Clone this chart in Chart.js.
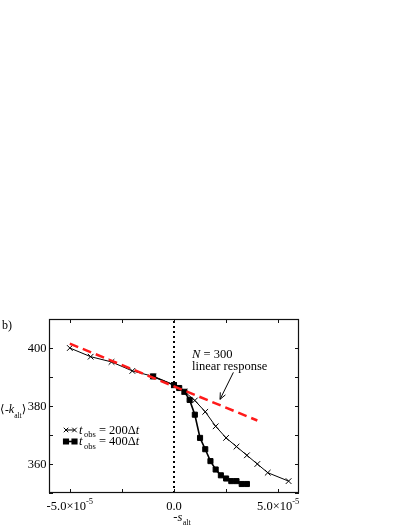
<!DOCTYPE html>
<html>
<head>
<meta charset="utf-8">
<script src="https://cdn.jsdelivr.net/npm/chart.js@4.4.1/dist/chart.umd.min.js"></script>
<style>
html,body{margin:0;padding:0;background:#fff;}
canvas{display:block;}
</style>
</head>
<body>
<canvas id="c" width="409" height="529"></canvas>
<script>
// ---- data ----
const xCross = [-5e-5,-4e-5,-3e-5,-2e-5,-1e-5,0,0.5e-5,1e-5,1.5e-5,2e-5,2.5e-5,3e-5,3.5e-5,4e-5,4.5e-5,5.5e-5];
const yCross = [400,397,395.2,392.1,390.2,387.2,385.0,381.9,378.0,373.0,369.0,366.0,363.0,360.0,357.0,354.1];
const xSquare = [-1e-5,0,0.25e-5,0.5e-5,0.75e-5,1e-5,1.25e-5,1.5e-5,1.75e-5,2e-5,2.25e-5,2.5e-5,2.75e-5,3e-5,3.25e-5,3.5e-5];
const ySquare = [390.2,387.2,386.2,384.9,382.1,377.0,369.0,365.1,361.0,358.1,356.1,355.0,354.1,354.1,353.1,353.1];
const xLinear = [-5e-5, 4e-5];
const yLinear = [401.5, 375.0];
const xTickVals = [-5e-5,-2.5e-5,0,2.5e-5,5e-5];
const xTickLabels = [["-5.0×10","-5"],null,["0.0",""],null,["5.0×10","-5"]];
const yTickVals = [350,360,370,380,390,400,410];
const yTickLabels = ["","360","","380","","400",""];
const arrowFrom = [2.85e-5, 391.6];
const arrowTo = [2.21e-5, 382.3];

const FONT = '"Liberation Serif","Times New Roman","DejaVu Serif",serif';

function pts(xs, ys){ return xs.map((x,i)=>({x:x,y:ys[i]})); }

function drawRich(ctx, segs, x, y, align){
  let w = 0;
  segs.forEach(s=>{
    ctx.font = (s.italic?'italic ':'') + s.size + 'px ' + FONT;
    s.w = ctx.measureText(s.t).width; w += s.w + (s.gap||0);
  });
  let cx = align==='center' ? x - w/2 : (align==='right' ? x - w : x);
  ctx.textAlign = 'left';
  ctx.textBaseline = 'alphabetic';
  segs.forEach(s=>{
    ctx.font = (s.italic?'italic ':'') + s.size + 'px ' + FONT;
    ctx.fillText(s.t, cx + (s.gap||0), y + (s.dy||0));
    cx += s.w + (s.gap||0);
  });
}

const framePlugin = {
  id:'frame',
  afterDraw(chart){
    const ctx = chart.ctx, a = chart.chartArea;
    const xs = chart.scales.x, ys = chart.scales.y;
    ctx.save();
    ctx.strokeStyle = '#111';
    ctx.lineWidth = 1.2;
    ctx.strokeRect(a.left+0.5, a.top+0.5, a.right-a.left-1, a.bottom-a.top-1);
    // ticks
    ctx.lineWidth = 1;
    ctx.beginPath();
    xTickVals.forEach(v=>{
      const p = Math.round(xs.getPixelForValue(v))+0.5;
      ctx.moveTo(p, a.bottom); ctx.lineTo(p, a.bottom-4);
      ctx.moveTo(p, a.top); ctx.lineTo(p, a.top+4);
    });
    yTickVals.forEach(v=>{
      const p = Math.round(ys.getPixelForValue(v))+0.5;
      ctx.moveTo(a.left, p); ctx.lineTo(a.left+4, p);
      ctx.moveTo(a.right, p); ctx.lineTo(a.right-4, p);
    });
    ctx.stroke();
    ctx.fillStyle = '#000';
    // y labels
    yTickVals.forEach((v,i)=>{
      if(!yTickLabels[i]) return;
      const p = ys.getPixelForValue(v);
      drawRich(ctx,[{t:yTickLabels[i],size:12.5}], a.left-2.5, p+4.3, 'right');
    });
    // x labels
    xTickVals.forEach((v,i)=>{
      const l = xTickLabels[i]; if(!l) return;
      const p = xs.getPixelForValue(v);
      const segs = [{t:l[0],size:12.5}];
      if(l[1]) segs.push({t:l[1],size:8.5,dy:-5.5});
      drawRich(ctx, segs, p, 509.5, 'center');
    });
    // axis titles
    drawRich(ctx,[{t:'-',size:12.5},{t:'s',italic:true,size:12.5},{t:'alt',size:8,dy:4.5,gap:0.5}], 182, 520.5, 'center');
    drawRich(ctx,[{t:'⟨',size:11.5},{t:'-',size:11.5,gap:0.5},{t:'k',italic:true,size:12},{t:'alt',size:7.5,dy:4.5},{t:'⟩',size:11.5}], 0, 413, 'left');
    drawRich(ctx,[{t:'b)',size:12}], 2, 328.5, 'left');
    // annotation
    drawRich(ctx,[{t:'N',italic:true,size:12.5},{t:' = 300',size:12.5}], 192, 358, 'left');
    drawRich(ctx,[{t:'linear response',size:12.5}], 192, 369.5, 'left');
    // arrow
    const fx = xs.getPixelForValue(arrowFrom[0]), fy = ys.getPixelForValue(arrowFrom[1]);
    const tx = xs.getPixelForValue(arrowTo[0]), ty = ys.getPixelForValue(arrowTo[1]);
    const ang = Math.atan2(ty-fy, tx-fx);
    ctx.strokeStyle = '#000';
    ctx.lineWidth = 1;
    ctx.beginPath();
    ctx.moveTo(fx,fy); ctx.lineTo(tx,ty);
    const L = 7, sp = 0.42;
    ctx.moveTo(tx - L*Math.cos(ang-sp), ty - L*Math.sin(ang-sp));
    ctx.lineTo(tx,ty);
    ctx.lineTo(tx - L*Math.cos(ang+sp), ty - L*Math.sin(ang+sp));
    ctx.stroke();
    // legend
    const ds = chart.data.datasets;
    const rows = [
      {ds:ds[2], y:430, base:433.8, n:'200', r:3.2},
      {ds:ds[3], y:441.5, base:445.3, n:'400', r:3.2}
    ];
    rows.forEach(r=>{
      ctx.strokeStyle = '#000';
      ctx.lineWidth = r.ds.borderWidth;
      ctx.beginPath(); ctx.moveTo(66, r.y); ctx.lineTo(74.5, r.y); ctx.stroke();
      [66,74.5].forEach(px=>{
        ctx.fillStyle = '#000'; ctx.strokeStyle = '#000';
        Chart.helpers.drawPoint(ctx,{pointStyle:r.ds.pointStyle, radius:r.r, rotation:0, borderWidth:r.ds.pointBorderWidth}, px, r.y);
      });
      ctx.fillStyle = '#000';
      drawRich(ctx,[{t:'t',italic:true,size:12.5},{t:'obs',size:8.5,dy:3.5,gap:1.5},{t:' = '+r.n+'Δ',size:12.5},{t:'t',italic:true,size:12.5}], 79, r.base, 'left');
    });
    ctx.restore();
  }
};

new Chart(document.getElementById('c'), {
  type:'scatter',
  data:{
    datasets:[
      {label:'linear response', data:pts(xLinear,yLinear), showLine:true, borderColor:'#ff1a1a', borderWidth:2.5, borderDash:[9,5], pointRadius:0, order:0},
      {label:'zero', data:[{x:0,y:350},{x:0,y:410}], showLine:true, borderColor:'#000', borderWidth:2, borderDash:[2,3], pointRadius:0, order:3},
      {label:'200', data:pts(xCross,yCross), showLine:true, borderColor:'#000', backgroundColor:'#000', borderWidth:1, pointStyle:'crossRot', pointRadius:4, pointBorderWidth:1, pointBorderColor:'#000', order:2},
      {label:'400', data:pts(xSquare,ySquare), showLine:true, borderColor:'#000', backgroundColor:'#000', borderWidth:1.6, pointStyle:'rect', pointRadius:3.6, pointBorderWidth:1, pointBorderColor:'#000', pointBackgroundColor:'#000', order:1}
    ]
  },
  options:{
    responsive:false,
    animation:false,
    layout:{padding:{left:0, top:319, right:110, bottom:0}},
    plugins:{legend:{display:false}, tooltip:{enabled:false}},
    scales:{
      x:{type:'linear', min:-6e-5, max:6e-5, grid:{display:false}, border:{display:false}, ticks:{display:false},
         afterFit(s){ s.height = 36; }},
      y:{type:'linear', min:350, max:410, grid:{display:false}, border:{display:false}, ticks:{display:false, stepSize:10},
         afterFit(s){ s.width = 49; }}
    }
  },
  plugins:[framePlugin]
});
</script>
</body>
</html>
